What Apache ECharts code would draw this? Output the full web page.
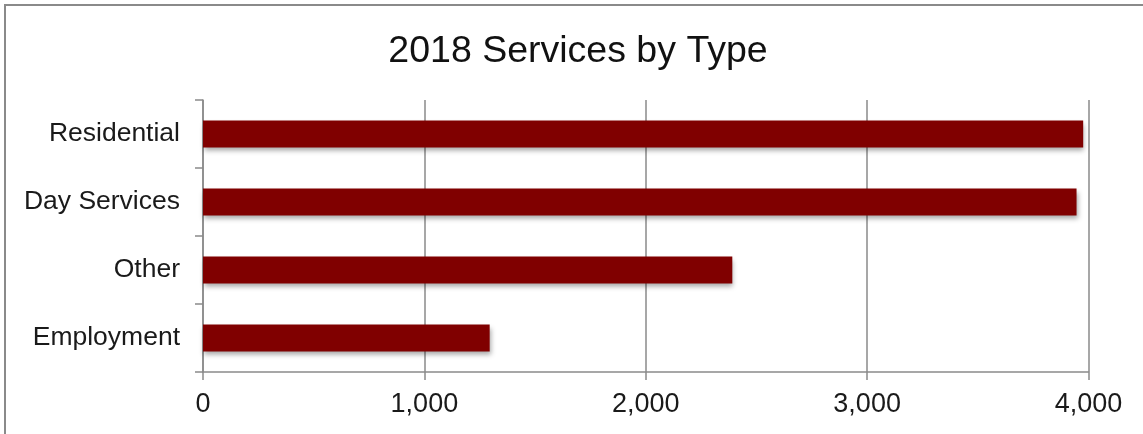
<!DOCTYPE html>
<html>
<head>
<meta charset="utf-8">
<script src="https://cdn.jsdelivr.net/npm/echarts@6/dist/echarts.min.js"></script>
<style>
  html, body { margin: 0; padding: 0; background: #fff; }
  #chart { width: 1143px; height: 434px; }
</style>
</head>
<body>
<div id="chart"></div>
<script>
// Service counts by type, 2018 (listed bottom to top)
const categories = ['Employment', 'Other', 'Day Services', 'Residential'];
const services = [1295, 2391, 3946, 3976];
const axisTicks = [0, 1000, 2000, 3000, 4000];

const FONT = '"Liberation Sans", Arial, Helvetica, sans-serif';
const AXIS_GRAY = '#8a8a8a';

const chart = echarts.init(document.getElementById('chart'), null, { renderer: 'canvas' });

chart.setOption({
  backgroundColor: '#ffffff',
  animation: false,
  title: {
    text: '2018 Services by Type',
    left: 573,
    top: 28,
    textAlign: 'center',
    textStyle: { fontFamily: FONT, fontSize: 37.5, fontWeight: 'normal', color: '#111111' }
  },
  graphic: [{
    type: 'rect',
    shape: { x: 5, y: 5, width: 1300, height: 600 },
    style: { fill: 'none', stroke: AXIS_GRAY, lineWidth: 2 },
    silent: true
  }],
  grid: { left: 203, right: 54.5, top: 100, bottom: 62, containLabel: false },
  xAxis: {
    type: 'value',
    min: axisTicks[0],
    max: axisTicks[axisTicks.length - 1],
    interval: axisTicks[1] - axisTicks[0],
    axisLine: { show: true, lineStyle: { color: AXIS_GRAY, width: 1.5 } },
    axisTick: { show: true, length: 8, lineStyle: { color: AXIS_GRAY, width: 1.5 } },
    splitLine: { show: true, lineStyle: { color: AXIS_GRAY, width: 1.5 } },
    axisLabel: {
      margin: 19,
      fontFamily: FONT, fontSize: 27, color: '#1a1a1a',
      formatter: v => v.toLocaleString('en-US')
    }
  },
  yAxis: {
    type: 'category',
    data: categories,
    axisLine: { show: true, lineStyle: { color: AXIS_GRAY, width: 1.5 } },
    axisTick: { show: true, length: 8, lineStyle: { color: AXIS_GRAY, width: 1.5 } },
    splitLine: { show: false },
    axisLabel: { margin: 23, fontFamily: FONT, fontSize: 26.5, color: '#1a1a1a' }
  },
  series: [{
    type: 'bar',
    data: services,
    barWidth: 27,
    itemStyle: {
      color: '#800000',
      shadowColor: 'rgba(0,0,0,0.35)',
      shadowBlur: 5,
      shadowOffsetX: 1,
      shadowOffsetY: 3
    }
  }]
});
</script>
</body>
</html>
